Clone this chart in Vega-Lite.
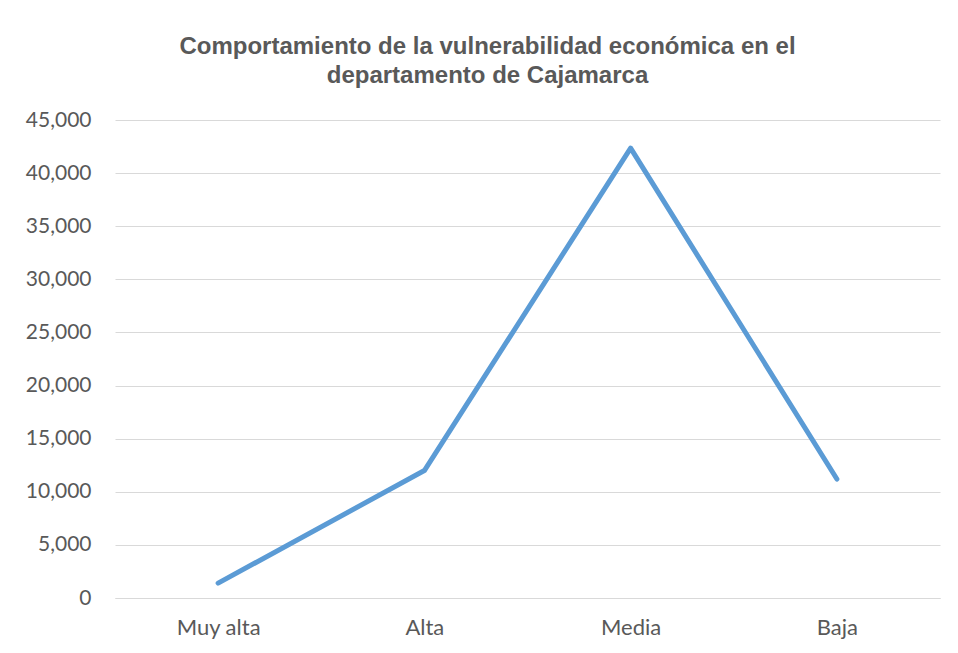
{
  "$schema": "https://vega.github.io/schema/vega-lite/v6.json",
  "autosize": "none",
  "width": 825,
  "height": 478,
  "padding": {"left": 115, "top": 120, "right": 18, "bottom": 55},
  "background": "white",
  "title": {
    "text": ["Comportamiento de la vulnerabilidad económica en el", "departamento de Cajamarca"],
    "font": "Liberation Sans",
    "fontWeight": "bold",
    "fontSize": 24,
    "color": "#595959",
    "lineHeight": 29,
    "anchor": "middle",
    "frame": "group",
    "dx": -40,
    "offset": 21
  },
  "data": {
    "values": [
      {"categoria": "Muy alta", "valor": 1400},
      {"categoria": "Alta", "valor": 12000},
      {"categoria": "Media", "valor": 42350},
      {"categoria": "Baja", "valor": 11200}
    ]
  },
  "mark": {"type": "line", "color": "#5b9bd5", "strokeWidth": 5, "strokeCap": "round", "strokeJoin": "round"},
  "encoding": {
    "x": {
      "field": "categoria",
      "type": "ordinal",
      "sort": null,
      "scale": {"type": "point", "padding": 0.5},
      "axis": {
        "title": null,
        "labelAngle": 0,
        "ticks": false,
        "domainColor": "#d9d9d9",
        "domainWidth": 1,
        "labelFont": "Lato",
        "labelFontSize": 22,
        "labelColor": "#595959",
        "labelPadding": 19
      }
    },
    "y": {
      "field": "valor",
      "type": "quantitative",
      "scale": {"domain": [0, 45000], "nice": false},
      "axis": {
        "title": null,
        "values": [0, 5000, 10000, 15000, 20000, 25000, 30000, 35000, 40000, 45000],
        "format": ",.0f",
        "domain": false,
        "ticks": false,
        "gridColor": "#d9d9d9",
        "gridWidth": 1,
        "labelFont": "Lato",
        "labelFontSize": 21,
        "labelColor": "#595959",
        "labelPadding": 24
      }
    }
  },
  "config": {"view": {"stroke": null}}
}
